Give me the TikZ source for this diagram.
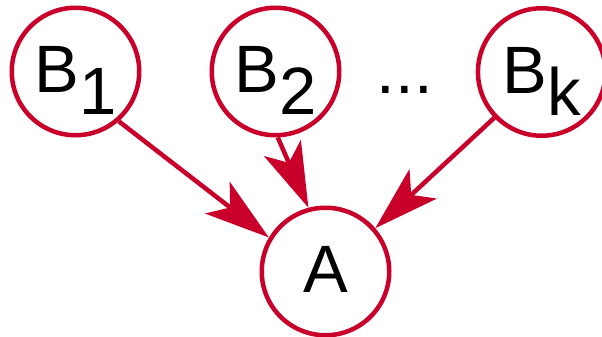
\documentclass[tikz,border=0pt]{standalone}
\usepackage{fontspec}
\setmainfont{Liberation Sans}
\usetikzlibrary{arrows.meta}
\definecolor{crim}{RGB}{200,0,42}
\tikzset{
  var/.style={circle, draw=crim, line width=4.5pt, minimum size=127.5pt, inner sep=0pt,
    font=\fontsize{67pt}{67pt}\selectfont, text height=48pt, text depth=6pt},
  dep/.style={draw=crim, line width=4.5pt, -{Stealth[length=65pt, width=40pt, inset=16pt, fill=crim]}}
}
\newcommand{\subdown}[1]{\raisebox{-22pt}{#1}}
\begin{document}
\begin{tikzpicture}[x=1pt, y=-1pt]
\useasboundingbox (0,0) rectangle (602,337);
\node[var] (b1) at (75.5,71.5) {B\subdown{1}};
\node[var] (b2) at (275.5,71.5) {B\subdown{2}};
\node[var] (bk) at (541.7,72) {B\subdown{k}};
\node[var] (a) at (325.5,271.5) {A};
\node[font=\fontsize{67pt}{67pt}\selectfont, anchor=base, inner sep=0pt] (dots) at (404.7,93) {...};
\draw[dep] (b1.-49) -- (a.149);
\draw[dep] (b2.-88) -- (a.105);
\draw[dep] (bk.-136) -- (a.41);
\end{tikzpicture}
\end{document}
